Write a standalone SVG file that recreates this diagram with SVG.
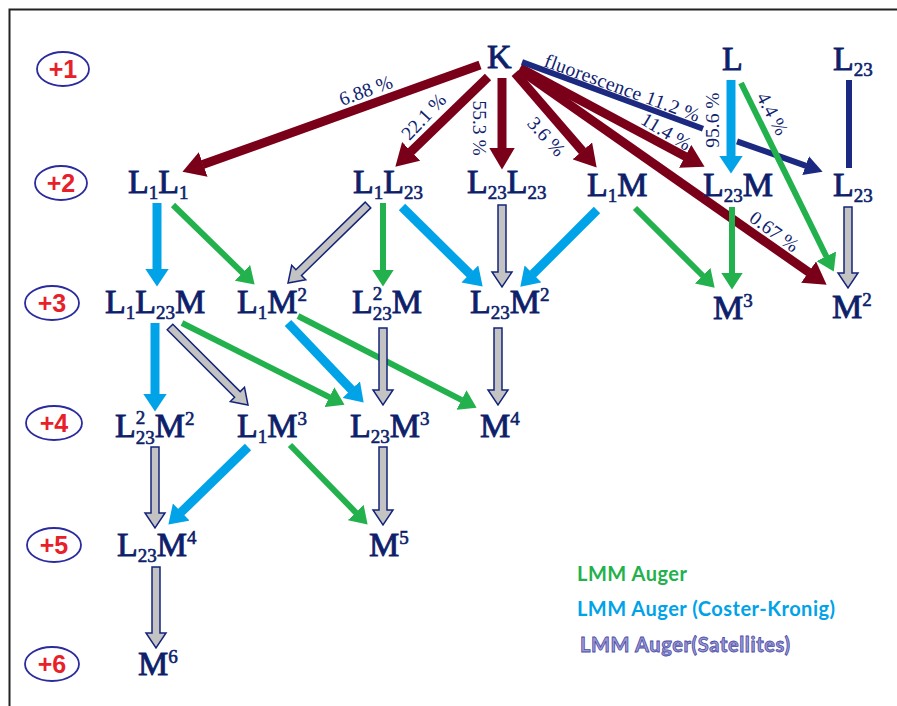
<svg xmlns="http://www.w3.org/2000/svg" width="897" height="706" viewBox="0 0 897 706">
<defs>
<marker id="hr" markerUnits="userSpaceOnUse" viewBox="0 0 22 26" refX="0.5" refY="13" markerWidth="22" markerHeight="26" orient="auto"><path d="M0,0 L22,13 L0,26 Z" fill="#7a0019"/></marker>
<marker id="hb" markerUnits="userSpaceOnUse" viewBox="0 0 18 24" refX="0.5" refY="12" markerWidth="18" markerHeight="24" orient="auto"><path d="M0,0 L18,12 L0,24 Z" fill="#00a2e8"/></marker>
<marker id="hg" markerUnits="userSpaceOnUse" viewBox="0 0 17 22" refX="0.5" refY="11" markerWidth="17" markerHeight="22" orient="auto"><path d="M0,0 L17,11 L0,22 Z" fill="#22b14c"/></marker>
<marker id="hn" markerUnits="userSpaceOnUse" viewBox="0 0 18 20" refX="0.5" refY="10" markerWidth="18" markerHeight="20" orient="auto"><path d="M0,0 L18,10 L0,20 Z" fill="#1b2a80"/></marker>
</defs>
<style>
.n{font-family:"Liberation Serif","Times New Roman",serif;font-size:34px;fill:#0d1f6b;stroke:#0d1f6b;stroke-width:0.9}
.s{font-size:19px;stroke-width:0.6}
.lvl ellipse{fill:none;stroke:#2b2b9e;stroke-width:1.8}
.lvl text{font-family:"Liberation Sans",Arial,sans-serif;font-weight:bold;font-size:25px;fill:#e8202a;text-anchor:middle}
.red{stroke:#7a0019;stroke-width:9;marker-end:url(#hr)}
.blue{stroke:#00a2e8;stroke-width:9;marker-end:url(#hb)}
.green{stroke:#22b14c;stroke-width:6;marker-end:url(#hg)}
.navy{stroke:#1b2a80;stroke-width:6}
.gray{fill:#c3c3c3;stroke:#14247a;stroke-width:1.5}
.pct{font-family:"Liberation Serif","Times New Roman",serif;font-size:19.5px;fill:#0f2270;text-anchor:middle}
.pct.st{text-anchor:start}
.leg{font-family:Lato,"Open Sans",sans-serif;font-weight:bold;font-size:20px}
</style>
<rect width="897" height="706" fill="#ffffff"/>
<path d="M9.5,706 V9.5 H897" fill="none" stroke="#222" stroke-width="2"/>

<g id="levels" class="lvl">
<g id="lvl1"><ellipse cx="63" cy="69" rx="26" ry="17"/><text x="63" y="78">+1</text></g>
<g id="lvl2"><ellipse cx="61" cy="183" rx="26" ry="17"/><text x="61" y="192">+2</text></g>
<g id="lvl3"><ellipse cx="52" cy="303" rx="27" ry="17"/><text x="52" y="312">+3</text></g>
<g id="lvl4"><ellipse cx="54" cy="423" rx="28" ry="17"/><text x="54" y="432">+4</text></g>
<g id="lvl5"><ellipse cx="54" cy="545" rx="27" ry="17"/><text x="54" y="554">+5</text></g>
<g id="lvl6"><ellipse cx="52" cy="664" rx="27" ry="17"/><text x="52" y="673">+6</text></g>
</g>

<g id="connectors">
<line class="red" x1="480" y1="65" x2="202.7" y2="164.6"/>
<line class="red" x1="488" y1="77" x2="410.8" y2="151.7"/>
<line class="red" x1="502" y1="78" x2="502" y2="148"/>
<line class="red" x1="515" y1="73" x2="582.6" y2="151.3"/>
<line class="red" x1="520" y1="68" x2="685.6" y2="156.6"/>
<line class="red" x1="520" y1="70" x2="809" y2="272.4"/>
<line class="navy" x1="522" y1="62" x2="703" y2="128.8"/>
<line class="navy" x1="737" y1="141.3" x2="806.1" y2="165.8" style="marker-end:url(#hn)"/>
<line class="navy" stroke-width="5" x1="849" y1="80" x2="849" y2="168"/>
<line class="blue" x1="731" y1="80" x2="731" y2="156"/>
<line class="green" x1="741" y1="83" x2="826.5" y2="256.7"/>

<line class="blue" x1="157" y1="203" x2="157" y2="269"/>
<line class="green" x1="173" y1="205" x2="242.8" y2="273.1"/>
<polygon class="gray" points="370.8,207.9 301.5,275.4 305.7,279.7 288,283 291.7,265.3 295.9,269.7 365.2,202.1"/>
<line class="green" x1="383" y1="203" x2="383" y2="270"/>
<line class="blue" x1="402" y1="207" x2="470.2" y2="274.3"/>
<polygon class="gray" points="498,205 506,205 506,272 512,272 502,287 492,272 498,272"/>
<line class="blue" x1="597" y1="210" x2="532.7" y2="274.3"/>
<line class="green" x1="635" y1="208" x2="703" y2="276"/>
<line class="green" x1="732" y1="207" x2="732" y2="273"/>
<polygon class="gray" points="844,207 852,207 852,273 858,273 848,288 838,273 844,273"/>

<line class="blue" x1="155" y1="323" x2="155" y2="394"/>
<polygon class="gray" points="172.8,324.2 240.2,391.6 244.5,387.3 248,405 230.3,401.5 234.6,397.2 167.2,329.8"/>
<line class="green" x1="182" y1="323" x2="329.8" y2="397.4"/>
<line class="blue" x1="288" y1="323" x2="351.6" y2="389.9"/>
<line class="green" x1="298" y1="316" x2="461.9" y2="400.2"/>
<polygon class="gray" points="379,328 387,328 387,390 393,390 383,405 373,390 379,390"/>
<polygon class="gray" points="494,328 502,328 502,390 508,390 498,405 488,390 494,390"/>

<polygon class="gray" points="151,447 159,447 159,513 165,513 155,528 145,513 151,513"/>
<line class="blue" x1="248" y1="447" x2="180.9" y2="512.4"/>
<line class="green" x1="290" y1="445" x2="356.1" y2="512.8"/>
<polygon class="gray" points="379,447 387,447 387,510 393,510 383,525 373,510 379,510"/>
<polygon class="gray" points="152,567 160,567 160,633 166,633 156,648 146,633 152,633"/>
</g>

<g id="labels">
<text class="pct" transform="translate(366,91) rotate(-20)" y="6">6.88 %</text>
<text class="pct" transform="translate(424,117) rotate(-47)" y="6">22.1 %</text>
<text class="pct" transform="translate(479,128) rotate(90)" y="6">55.3 %</text>
<text class="pct" transform="translate(546,137) rotate(48)" y="6">3.6 %</text>
<text class="pct" transform="translate(666,132) rotate(31)" y="6">11.4 %</text>
<text class="pct" transform="translate(713,120) rotate(-90)" y="6">95.6 %</text>
<text class="pct" transform="translate(772,114) rotate(62)" y="6">4.4 %</text>
<text class="pct" transform="translate(774,232) rotate(36)" y="6">0.67 %</text>
<text class="pct st" transform="translate(543,66) rotate(20)" textLength="164">fluorescence 11.2 %</text>
</g>

<g id="nodes" class="n">
<g id="K"><text x="487" y="68">K</text></g>
<g id="L"><text x="722" y="70">L</text></g>
<g id="L23-top"><text x="833" y="70">L<tspan class="s" dy="6">23</tspan></text></g>

<g id="L1L1"><text x="128" y="193">L<tspan class="s" dy="6">1</tspan><tspan dy="-6">L</tspan><tspan class="s" dy="6">1</tspan></text></g>
<g id="L1L23"><text x="353" y="193">L<tspan class="s" dy="6">1</tspan><tspan dy="-6">L</tspan><tspan class="s" dy="6">23</tspan></text></g>
<g id="L23L23"><text x="467" y="193">L<tspan class="s" dy="6">23</tspan><tspan dy="-6">L</tspan><tspan class="s" dy="6">23</tspan></text></g>
<g id="L1M"><text x="587" y="196">L<tspan class="s" dy="6">1</tspan><tspan dy="-6">M</tspan></text></g>
<g id="L23M"><text x="703" y="196">L<tspan class="s" dy="6">23</tspan><tspan dy="-6">M</tspan></text></g>
<g id="L23"><text x="833" y="196">L<tspan class="s" dy="6">23</tspan></text></g>

<g id="L1L23M"><text x="105" y="313">L<tspan class="s" dy="6">1</tspan><tspan dy="-6">L</tspan><tspan class="s" dy="6">23</tspan><tspan dy="-6">M</tspan></text></g>
<g id="L1M2"><text x="237" y="313">L<tspan class="s" dy="6">1</tspan><tspan dy="-6">M</tspan><tspan class="s" dy="-12">2</tspan></text></g>
<g id="L2_23M"><text x="352" y="313">L<tspan class="s" dy="-13">2</tspan><tspan class="s" dx="-9.5" dy="20">23</tspan><tspan dy="-7">M</tspan></text></g>
<g id="L23M2"><text x="470" y="313">L<tspan class="s" dy="6">23</tspan><tspan dy="-6">M</tspan><tspan class="s" dy="-12">2</tspan></text></g>
<g id="M3"><text x="713" y="319">M<tspan class="s" dy="-12">3</tspan></text></g>
<g id="M2"><text x="832" y="318">M<tspan class="s" dy="-12">2</tspan></text></g>

<g id="L2_23M2"><text x="115" y="437">L<tspan class="s" dy="-13">2</tspan><tspan class="s" dx="-9.5" dy="20">23</tspan><tspan dy="-7">M</tspan><tspan class="s" dy="-12">2</tspan></text></g>
<g id="L1M3"><text x="237" y="437">L<tspan class="s" dy="6">1</tspan><tspan dy="-6">M</tspan><tspan class="s" dy="-12">3</tspan></text></g>
<g id="L23M3"><text x="350" y="437">L<tspan class="s" dy="6">23</tspan><tspan dy="-6">M</tspan><tspan class="s" dy="-12">3</tspan></text></g>
<g id="M4"><text x="480" y="437">M<tspan class="s" dy="-12">4</tspan></text></g>

<g id="L23M4"><text x="117" y="556">L<tspan class="s" dy="6">23</tspan><tspan dy="-6">M</tspan><tspan class="s" dy="-12">4</tspan></text></g>
<g id="M5"><text x="369" y="556">M<tspan class="s" dy="-12">5</tspan></text></g>
<g id="M6"><text x="138" y="675">M<tspan class="s" dy="-12">6</tspan></text></g>
</g>

<g id="legend" class="leg">
<text x="577" y="581" fill="#22b14c" textLength="110">LMM Auger</text>
<text x="577" y="616" fill="#00a2e8" textLength="258">LMM Auger (Coster-Kronig)</text>
<text x="580" y="652" fill="#9a9ad2" stroke="#4b4ba8" stroke-width="0.8" textLength="210">LMM Auger(Satellites)</text>
</g>
</svg>
